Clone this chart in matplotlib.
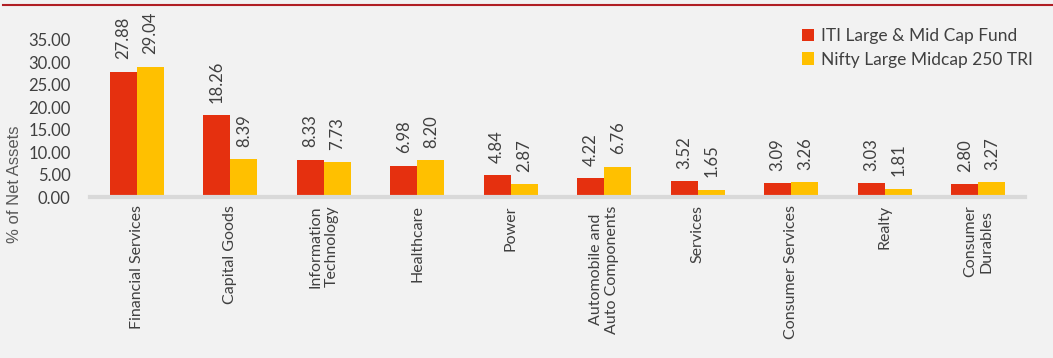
import numpy as np
import matplotlib
matplotlib.use("Agg")
from matplotlib import pyplot as plt
from matplotlib.lines import Line2D

categories = ["Financial Services", "Capital Goods", "Information\nTechnology",
              "Healthcare", "Power", "Automobile and\nAuto Components", "Services",
              "Consumer Services", "Realty", "Consumer\nDurables"]
fund = [27.88, 18.26, 8.33, 6.98, 4.84, 4.22, 3.52, 3.09, 3.03, 2.80]
bench = [29.04, 8.39, 7.73, 8.20, 2.87, 6.76, 1.65, 3.26, 1.81, 3.27]
series_names = ["ITI Large & Mid Cap Fund", "Nifty Large Midcap 250 TRI"]
yticks = [0, 5, 10, 15, 20, 25, 30, 35]

plt.rcParams['font.family'] = ['Lato', 'DejaVu Sans']
bg = '#F2F2F2'
red = '#E5300F'
yellow = '#FFC000'
txt = '#404040'

fig = plt.figure(figsize=(10.53, 3.58), dpi=100, facecolor=bg)
ax = fig.add_axes([90/1053, 1 - 197/358, 935/1053, (197 - 17.5)/358])
ax.set_facecolor(bg)

x = np.arange(len(categories))
w = 0.29
b1 = ax.bar(x - w/2, fund, w, color=red, label=series_names[0])
b2 = ax.bar(x + w/2, bench, w, color=yellow, label=series_names[1])

for bars, vals in ((b1, fund), (b2, bench)):
    for r, v in zip(bars, vals):
        ax.annotate(f"{v:.2f}", (r.get_x() + r.get_width()/2, v),
                    xytext=(0, 9), textcoords='offset points',
                    rotation=90, ha='center', va='bottom',
                    fontsize=12, color=txt)

ax.set_xlim(-0.5, len(categories) - 0.5)
ax.set_ylim(0, 40)
ax.set_yticks(yticks)
ax.set_yticklabels([f"{t:.2f}" for t in yticks], fontsize=12, color=txt)
ax.set_xticks(x)
ax.set_xticklabels(categories, rotation=90, fontsize=11.5, color=txt, va='top')
ax.tick_params(length=0)
ax.tick_params(axis='y', pad=14)
ax.tick_params(axis='x', pad=6)
for s in ('top', 'right', 'left'):
    ax.spines[s].set_visible(False)
ax.spines['bottom'].set_color('#D9D9D9')
ax.spines['bottom'].set_linewidth(3)

fig.text(15/1053, 1 - 184/358, "% of Net Assets", rotation=90,
         ha='center', va='center', fontsize=12, color='#595959',
         family=['Liberation Sans', 'DejaVu Sans'])

ax.legend(loc='upper left', bbox_to_anchor=(0.745, 1.03), frameon=False,
          fontsize=12.5, handlelength=0.7, handleheight=0.7, handletextpad=0.4,
          labelspacing=0.45, labelcolor=txt)

fig.add_artist(Line2D([3/1053, 1], [1 - 5/358, 1 - 5/358], color='#B01E24', lw=1.5))

fig.savefig("out.png", dpi=100, facecolor=bg)
